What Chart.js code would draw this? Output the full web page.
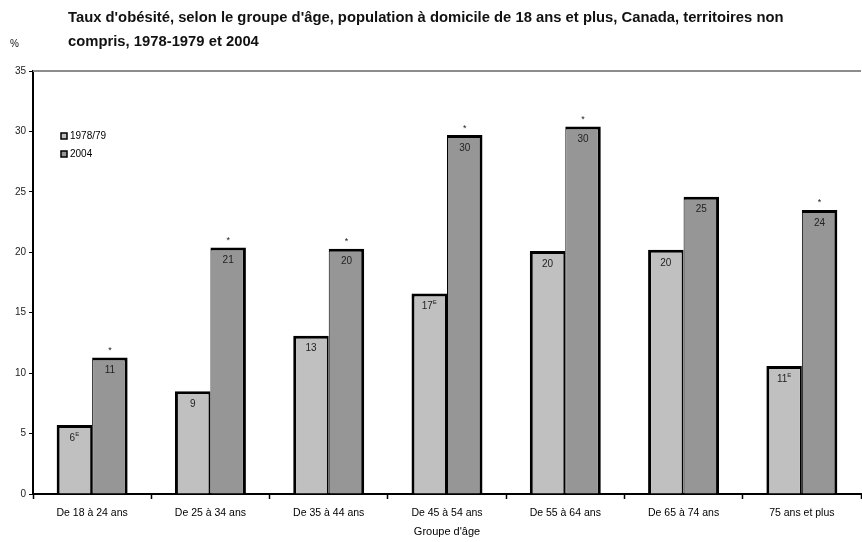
<!DOCTYPE html>
<html>
<head>
<meta charset="utf-8">
<script src="https://cdn.jsdelivr.net/npm/chart.js@4"></script>
<style>
    body { margin: 0; background: #fff; }
    #wrap { width: 862px; height: 542px; }
</style>
</head>
<body>
<div id="wrap"><canvas id="obesityChart" width="862" height="542"></canvas></div>
<script>
// données
const categories = ['De 18 à 24 ans', 'De 25 à 34 ans', 'De 35 à 44 ans', 'De 45 à 54 ans', 'De 55 à 64 ans', 'De 65 à 74 ans', '75 ans et plus'];
const y1978 = [5.7, 8.5, 13.1, 16.6, 20.1, 20.2, 10.6];
const y2004 = [11.3, 20.4, 20.3, 29.7, 30.4, 24.6, 23.5];
const labels1978 = ['6', '9', '13', '17', '20', '20', '11'];
const flags1978 = ['E', '', '', 'E', '', '', 'E'];
const labels2004 = ['11', '21', '20', '30', '30', '25', '24'];
const stars2004 = [true, true, true, true, true, false, true];
const seriesNames = ['1978/79', '2004'];
const titleLines = ["Taux d'obésité, selon le groupe d'âge, population à domicile de 18 ans et plus, Canada, territoires non", 'compris, 1978-1979 et 2004'];

const fontFamily = '"Liberation Sans", Arial, sans-serif';
const colors = ['#c0c0c0', '#969696'];

// titre, légende, étiquettes des barres
const extras = {
    id: 'extras',
    afterDraw(chart) {
        const ctx = chart.ctx;
        const area = chart.chartArea;
        ctx.save();
        // ligne du haut
        ctx.strokeStyle = '#8c8c8c';
        ctx.lineWidth = 2;
        ctx.beginPath();
        ctx.moveTo(area.left, area.top);
        ctx.lineTo(area.right, area.top);
        ctx.stroke();

        // titre
        ctx.fillStyle = '#111';
        ctx.font = 'bold 14.8px ' + fontFamily;
        ctx.textBaseline = 'middle';
        ctx.textAlign = 'left';
        ctx.fillText(titleLines[0], 68, 18);
        ctx.fillText(titleLines[1], 68, 42);
        ctx.font = '10px ' + fontFamily;
        ctx.fillText('%', 10, 44);

        // légende
        ctx.font = '10px ' + fontFamily;
        seriesNames.forEach(function (name, i) {
            const y = 136 + i * 18;
            ctx.fillStyle = colors[i];
            ctx.fillRect(61, y - 3, 6, 6);
            ctx.strokeStyle = '#000';
            ctx.lineWidth = 1.5;
            ctx.strokeRect(61, y - 3, 6, 6);
            ctx.fillStyle = '#000';
            ctx.fillText(name, 70, y);
        });

        // valeurs
        ctx.textAlign = 'center';
        const m0 = chart.getDatasetMeta(0).data;
        const m1 = chart.getDatasetMeta(1).data;
        m0.forEach(function (bar, i) {
            ctx.font = '10px ' + fontFamily;
            ctx.fillStyle = '#222';
            const txt = labels1978[i];
            const w = ctx.measureText(txt).width;
            const ty = bar.y + 13;
            ctx.fillText(txt, bar.x - (flags1978[i] ? 2 : 0), ty);
            if (flags1978[i]) {
                ctx.font = '6px ' + fontFamily;
                ctx.textAlign = 'left';
                ctx.fillText(flags1978[i], bar.x - 2 + w / 2, ty - 4);
                ctx.textAlign = 'center';
            }
        });
        m1.forEach(function (bar, i) {
            ctx.font = '10px ' + fontFamily;
            ctx.fillStyle = '#222';
            ctx.fillText(labels2004[i], bar.x, bar.y + 13);
            if (stars2004[i]) {
                ctx.font = '9px ' + fontFamily;
                ctx.fillText('*', bar.x, bar.y - 7);
            }
        });
        ctx.restore();
    }
};

new Chart(document.getElementById('obesityChart'), {
    type: 'bar',
    data: {
        labels: categories,
        datasets: [
            {
                label: seriesNames[0],
                data: y1978,
                backgroundColor: colors[0],
                borderColor: '#000',
                borderWidth: { top: 3, left: 3, right: 2, bottom: 0 },
                borderSkipped: false
            },
            {
                label: seriesNames[1],
                data: y2004,
                backgroundColor: colors[1],
                borderColor: '#000',
                borderWidth: { top: 3, left: 1, right: 3, bottom: 0 },
                borderSkipped: false
            }]
    },
    options: {
        responsive: false,
        animation: false,
        layout: { padding: { top: 71, right: 1, left: 0, bottom: 0 } },
        datasets: { bar: { categoryPercentage: 0.6, barPercentage: 1 } },
        plugins: {
            legend: { display: false },
            tooltip: { enabled: false }
        },
        scales: {
            x: {
                grid: { offset: true, drawOnChartArea: false, color: '#000', tickLength: 5, tickWidth: 1.5 },
                border: { color: '#000', width: 2 },
                ticks: { color: '#000', font: { family: fontFamily, size: 10.5 }, padding: 8, maxRotation: 0 },
                title: { display: true, text: "Groupe d'âge", color: '#000', font: { family: fontFamily, size: 11 }, padding: { top: 4, bottom: 3 } },
                afterFit: function (scale) { scale.height = 48; }
            },
            y: {
                min: 0,
                max: 35,
                ticks: { stepSize: 5, color: '#222', font: { family: fontFamily, size: 10 }, padding: 3 },
                grid: { drawOnChartArea: false, color: '#000', tickLength: 4 },
                border: { color: '#000', width: 2 },
                afterFit: function (scale) { scale.width = 33; }
            }
        }
    },
    plugins: [extras]
});
</script>
</body>
</html>
